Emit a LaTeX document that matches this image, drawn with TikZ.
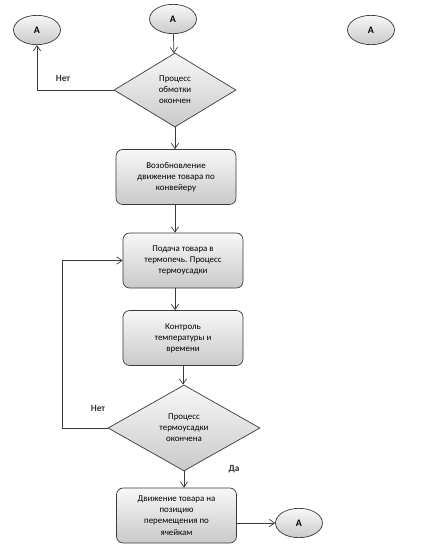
\documentclass[tikz,border=0pt]{standalone}
\usepackage{fontspec}
\setmainfont{Carlito}
\usepackage{tikz}
\usetikzlibrary{arrows.meta, positioning, shapes.geometric}
\definecolor{edge}{HTML}{3A3A3A}

\begin{document}
\begin{tikzpicture}[x=0.03cm, y=-0.03cm,
    box/.style={draw=edge, semithick, rounded corners=2mm, top color=gray!6, bottom color=gray!42, minimum width=3.6cm, minimum height=1.65cm, align=center, font=\fontsize{7.6}{9.5}\selectfont, inner sep=1pt},
    decide/.style={diamond, draw=edge, semithick, top color=gray!6, bottom color=gray!42, minimum width=#1, align=center, font=\fontsize{7.6}{9.5}\selectfont, inner sep=0pt},
    conn/.style={ellipse, draw=edge, semithick, top color=gray!6, bottom color=gray!42, minimum width=1.41cm, minimum height=0.88cm, font=\fontsize{8.5}{9}\selectfont\bfseries, inner sep=0pt},
    arrow/.style={-{Straight Barb[length=1.6mm, width=2.2mm]}, semithick, color=edge},
    lbl/.style={font=\fontsize{8}{9}\selectfont\bfseries, text=black!80}
]
\useasboundingbox (0,0) rectangle (429,547);

\node[conn] (aleft) at (37,30) {A};
\node[conn] (atop) at (173,19) {A};
\node[conn] (aright) at (371,30) {A};

\node[decide=3.66cm, minimum height=2.22cm] (wind) at (175,90) {Процесс\\обмотки\\окончен};
\node[box] (resume) at (176,177) {Возобновление\\движение товара по\\конвейеру};
\node[box] (heat) at (183,260.5) {Подача товара в\\термопечь. Процесс\\термоусадки};
\node[box] (control) at (183,338) {Контроль\\температуры и\\времени};
\node[decide=4.56cm, minimum height=2.58cm] (shrink) at (184,428) {Процесс\\термоусадки\\окончена};
\node[box] (move) at (176.5,515.5) {Движение товара на\\позицию\\перемещения по\\ячейкам};
\node[conn] (aend) at (299,523) {A};

\coordinate (loop) at (62,260.5);

\node[lbl] (no1) at (63,78) {Нет};
\node[lbl] (no2) at (98,408) {Нет};
\node[lbl] (yes) at (234,469) {Да};

\draw[arrow] (atop) -- (wind);
\draw[arrow] (wind.west) -| (aleft);
\draw[arrow] (wind.south) -- (wind.south |- resume.north);
\draw[arrow] (wind.south |- resume.south) -- (wind.south |- heat.north);
\draw[arrow] (wind.south |- heat.south) -- (wind.south |- control.north);
\draw[arrow] (control.south) -- (control.south |- shrink.north);
\draw[arrow] (shrink.west) -| (loop) -- (heat.west);
\draw[arrow] (shrink.south) -- (shrink.south |- move.north);
\draw[arrow] (move.east |- aend) -- (aend);
\end{tikzpicture}
\end{document}
